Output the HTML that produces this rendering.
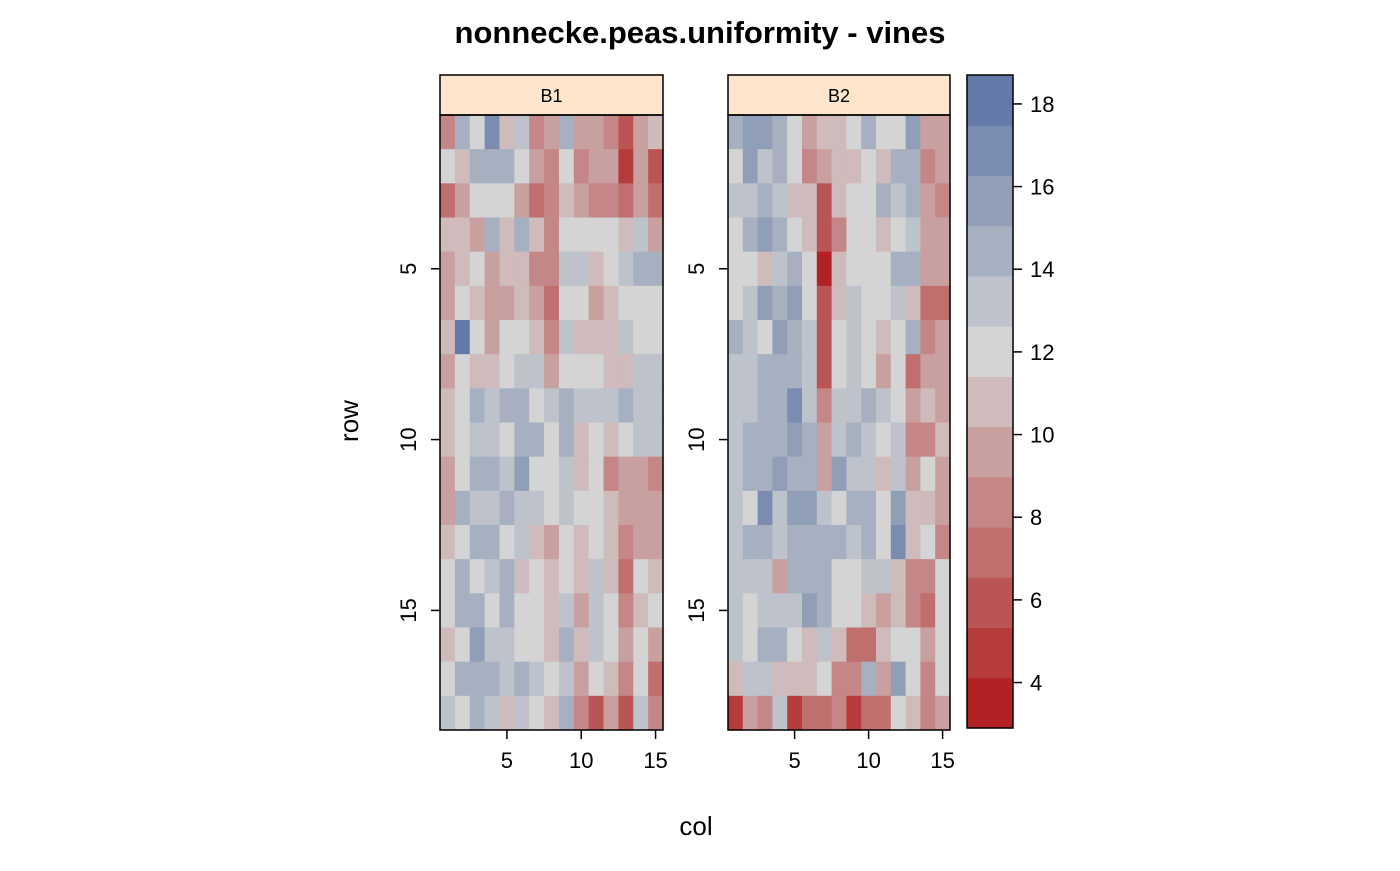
<!DOCTYPE html>
<html><head><meta charset="utf-8"><style>
body{margin:0;background:#fff;}
svg text{font-family:"Liberation Sans",sans-serif;}
</style></head><body>
<svg id="chart" width="1400" height="866" xmlns="http://www.w3.org/2000/svg">
<rect width="1400" height="866" fill="#fff"/>
<text x="700" y="43" text-anchor="middle" font-size="31" font-weight="bold">nonnecke.peas.uniformity - vines</text>
<text x="696" y="835" text-anchor="middle" font-size="26">col</text>
<text transform="translate(358,421) rotate(-90)" text-anchor="middle" font-size="26">row</text>
<g id="panels"></g>
<g id="legend"></g>
</svg>
<script>
const panelNames = ["B1","B2"];
const colTicks = [5,10,15];
const rowTicks = [5,10,15];
const legendTicks = [4,6,8,10,12,14,16,18];
const B1 = [
[8.4,14.4,12,16.9,10.8,13.2,8.4,9.6,14.4,9.6,9.6,8.4,5.9,9.6,10.8],
[12,10.8,14.4,14.4,14.4,12,9.6,8.4,12,8.4,9.6,9.6,4.7,9.6,5.9],
[7.2,9.6,12,12,12,9.6,7.2,8.4,10.8,9.6,8.4,8.4,7.2,9.6,7.2],
[10.8,10.8,9.6,14.4,10.8,14.4,10.8,8.4,12,12,12,12,10.8,13.2,9.6],
[9.6,10.8,12,9.6,10.8,10.8,8.4,8.4,13.2,13.2,10.8,12,13.2,14.4,14.4],
[9.6,12,10.8,9.6,9.6,10.8,9.6,7.2,12,12,9.6,10.8,12,12,12],
[10.8,18.1,12,9.6,12,12,10.8,8.4,13.2,10.8,10.8,10.8,13.2,12,12],
[9.6,12,10.8,10.8,12,13.2,13.2,9.6,12,12,12,10.8,10.8,13.2,13.2],
[10.8,12,14.4,13.2,14.4,14.4,12,13.2,14.4,13.2,13.2,13.2,14.4,13.2,13.2],
[10.8,12,13.2,13.2,12,14.4,14.4,12,14.4,10.8,12,10.8,12,13.2,13.2],
[9.6,12,14.4,14.4,13.2,15.7,12,12,13.2,10.8,12,8.4,9.6,9.6,8.4],
[9.6,14.4,13.2,13.2,14.4,13.2,13.2,12,13.2,12,12,10.8,9.6,9.6,9.6],
[10.8,12,14.4,14.4,12,13.2,10.8,9.6,12,10.8,12,10.8,8.4,9.6,9.6],
[12,14.4,12,13.2,14.4,10.8,12,10.8,12,10.8,13.2,10.8,7.2,12,10.8],
[12,14.4,14.4,12,14.4,12,12,10.8,13.2,9.6,13.2,12,8.4,10.8,12],
[10.8,12,15.7,13.2,13.2,12,12,10.8,14.4,10.8,13.2,12,9.6,12,9.6],
[12,14.4,14.4,14.4,13.2,14.4,13.2,12,13.2,9.6,12,10.8,8.4,12,7.2],
[13.2,12,14.4,13.2,10.8,13.2,12,10.8,14.4,8.4,5.9,9.6,5.9,13.2,8.4]
];
const B2 = [
[14.4,15.7,15.7,14.4,12,9.6,10.8,10.8,12,14.4,12,12,15.7,9.6,9.6],
[12,15.7,13.2,14.4,12,8.4,9.6,10.8,10.8,12,10.8,14.4,14.4,8.4,9.6],
[13.2,13.2,14.4,13.2,10.8,10.8,5.9,10.8,12,12,14.4,13.2,14.4,9.6,8.4],
[12,14.4,15.7,14.4,12,10.8,5.9,8.4,12,12,10.8,12,13.2,9.6,9.6],
[12,12,10.8,13.2,14.4,12,3.5,10.8,12,12,12,14.4,14.4,9.6,9.6],
[12,13.2,15.7,14.4,15.7,12,5.9,10.8,13.2,12,12,13.2,10.8,7.2,7.2],
[14.4,13.2,12,15.7,14.4,13.2,5.9,12,13.2,12,10.8,12,14.4,8.4,9.6],
[13.2,13.2,14.4,14.4,14.4,13.2,5.9,12,13.2,12,9.6,12,7.2,9.6,9.6],
[13.2,13.2,14.4,14.4,16.9,13.2,8.4,13.2,13.2,14.4,13.2,12,9.6,10.8,9.6],
[13.2,14.4,14.4,14.4,15.7,14.4,9.6,13.2,14.4,13.2,12,13.2,8.4,8.4,10.8],
[13.2,14.4,14.4,15.7,14.4,14.4,9.6,15.7,13.2,13.2,10.8,13.2,9.6,12,9.6],
[13.2,12,16.9,13.2,15.7,15.7,13.2,12,14.4,14.4,12,15.7,10.8,10.8,9.6],
[13.2,14.4,14.4,13.2,14.4,14.4,14.4,14.4,13.2,14.4,12,16.9,10.8,12,8.4],
[13.2,13.2,13.2,9.6,14.4,14.4,14.4,12,12,13.2,13.2,10.8,8.4,8.4,12],
[13.2,12,13.2,13.2,13.2,15.7,14.4,12,12,10.8,9.6,10.8,8.4,7.2,12],
[13.2,12,14.4,14.4,12,10.8,13.2,10.8,7.2,7.2,10.8,12,12,9.6,12],
[10.8,13.2,13.2,10.8,10.8,10.8,12,8.4,8.4,14.4,9.6,15.7,12,8.4,12],
[4.7,9.6,8.4,13.2,4.7,7.2,7.2,8.4,4.7,7.2,7.2,12,10.8,8.4,9.6]
];
const panelData = [B1, B2];
const palette = ["#B22222","#B63B3B","#BB5555","#C06E6E","#C48686","#C9A0A0","#CFBBBB","#D4D4D4","#BEC2CB","#A7B0C1","#909EB8","#7A8CB0","#6379A8"];
const vMin = 2.9, vMax = 18.7;
const NS = "http://www.w3.org/2000/svg";
function mk(tag, attrs, parent){const e=document.createElementNS(NS,tag);for(const k in attrs)e.setAttribute(k,attrs[k]);parent.appendChild(e);return e;}
function colorOf(v){let k=Math.floor((v-vMin)/(vMax-vMin)*palette.length);k=Math.max(0,Math.min(palette.length-1,k));return palette[k];}
const panelLefts=[440,728], panelW=[223,222], pTop=115, pBottom=730, stripTop=75;
const gP=document.getElementById('panels');
panelData.forEach((data,p)=>{
  const L=panelLefts[p], W=panelW[p];
  const nr=data.length, nc=data[0].length;
  const xs=c=>L+(c-0.5)/nc*W;
  const ys=r=>pTop+(r-0.5)/nr*(pBottom-pTop);
  const cw=W/nc, ch=(pBottom-pTop)/nr;
  const g=mk('g',{},gP);
  
  
  data.forEach((row,r)=>row.forEach((v,c)=>{
    const rc=mk('rect',{x:xs(c+1)-cw/2,y:ys(r+1)-ch/2,width:cw+0.6,height:ch+0.6,fill:colorOf(v)},g);
    
    
  }));
  const st=mk('rect',{x:L,y:stripTop,width:W,height:pTop-stripTop,fill:'#FFE5CC',stroke:'#000','stroke-width':1.5},g);
  
  
  const sl=mk('text',{x:L+W/2,y:stripTop+27,'text-anchor':'middle','font-size':18},g);sl.textContent=panelNames[p];
  
  
  const bx=mk('rect',{x:L,y:pTop,width:W,height:pBottom-pTop,fill:'none',stroke:'#000','stroke-width':1.5},g);
  
  
  colTicks.forEach(t=>{
    const x=xs(t);
    mk('line',{x1:x,x2:x,y1:pBottom,y2:pBottom+9,stroke:'#000','stroke-width':1.5},g);
    const tx=mk('text',{x:x,y:pBottom+38,'text-anchor':'middle','font-size':22},g);tx.textContent=t;
    
    
  });
  rowTicks.forEach(t=>{
    const y=ys(t);
    mk('line',{x1:L-9,x2:L,y1:y,y2:y,stroke:'#000','stroke-width':1.5},g);
    const tx=mk('text',{transform:`translate(${L-24},${y}) rotate(-90)`,'text-anchor':'middle','font-size':22},g);tx.textContent=t;
    
    
  });
});
const gL=document.getElementById('legend');


const lx=967, lw=46, lt=75, lb=728;
const ly=v=>lb-(v-vMin)/(vMax-vMin)*(lb-lt);
palette.forEach((col,i)=>{
  const v0=vMin+i*(vMax-vMin)/palette.length, v1=vMin+(i+1)*(vMax-vMin)/palette.length;
  const r=mk('rect',{x:lx,y:ly(v1),width:lw,height:ly(v0)-ly(v1)+0.5,fill:col},gL);
  
  
});
mk('rect',{x:lx,y:lt,width:lw,height:lb-lt,fill:'none',stroke:'#000','stroke-width':1.5},gL);
legendTicks.forEach(t=>{
  const y=ly(t);
  mk('line',{x1:lx+lw,x2:lx+lw+9,y1:y,y2:y,stroke:'#000','stroke-width':1.5},gL);
  const tx=mk('text',{x:lx+lw+17,y:y+8,'font-size':22},gL);tx.textContent=t;
  
  
});
</script>
</body></html>
